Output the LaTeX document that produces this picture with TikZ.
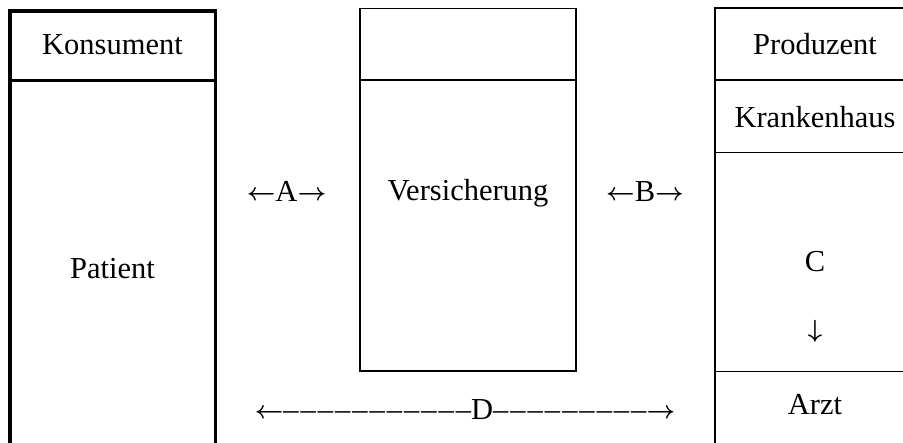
\documentclass[tikz,border=0pt]{standalone}
\usepackage{fontspec}
\setmainfont{Liberation Serif}
\newcommand\myleftarr{\raisebox{1.5pt}{\boldmath$\leftarrow$}}
\newcommand\myrightarr{\raisebox{1.5pt}{\boldmath$\rightarrow$}}
\newcommand\mydownarr{\mbox{\boldmath$\downarrow$}}
\newcommand\gapdash{\kern2pt–}
\begin{document}
\begin{tikzpicture}[x=1pt,y=-1pt,
  lbl/.style={anchor=base, inner sep=0pt, font=\fontsize{30.5}{36}\selectfont},
  heavyline/.style={line width=3.2pt},
  lightline/.style={line width=1.8pt}]
\useasboundingbox (0,0) rectangle (903,443);
% left column (Konsument / Patient)
\draw[heavyline] (10,443) -- (10,11) -- (215.5,11) -- (215.5,443);
\draw[heavyline] (10,80.7) -- (215.5,80.7);
% middle column (Versicherung)
\draw[lightline] (360.3,8.5) rectangle (576.3,371);
\draw[lightline] (360.3,80) -- (576.3,80);
% right column (Produzent)
\draw[lightline] (903,8.2) -- (714.8,8.2) -- (714.8,443);
\draw[lightline] (714.8,80) -- (903,80);
\draw[lightline] (714.8,152.5) -- (903,152.5);
\draw[lightline] (714.8,371.5) -- (903,371.5);
% texts
\node[lbl] (kons) at (112.5,55) {Konsument};
\node[lbl] (pat) at (112.5,279) {Patient};
\node[lbl] (vers) at (468,201) {Versicherung};
\node[lbl] (a) at (286.5,202) {\myleftarr A\myrightarr};
\node[lbl] (b) at (645,202) {\myleftarr B\myrightarr};
\node[lbl] (prod) at (815,55) {Produzent};
\node[lbl] (kh) at (815,128) {Krankenhaus};
\node[lbl] (c) at (815,272) {C};
\node[lbl] (down) at (815,337.5) {\mydownarr};
\node[lbl] (arzt) at (815,415) {Arzt};
\node[lbl] (d) at (465,420) {\myleftarr–\gapdash\gapdash\gapdash\gapdash\gapdash\gapdash\gapdash\gapdash\gapdash\gapdash D–\gapdash\gapdash\gapdash\gapdash\gapdash\gapdash\gapdash\gapdash\myrightarr};
\end{tikzpicture}
\end{document}
